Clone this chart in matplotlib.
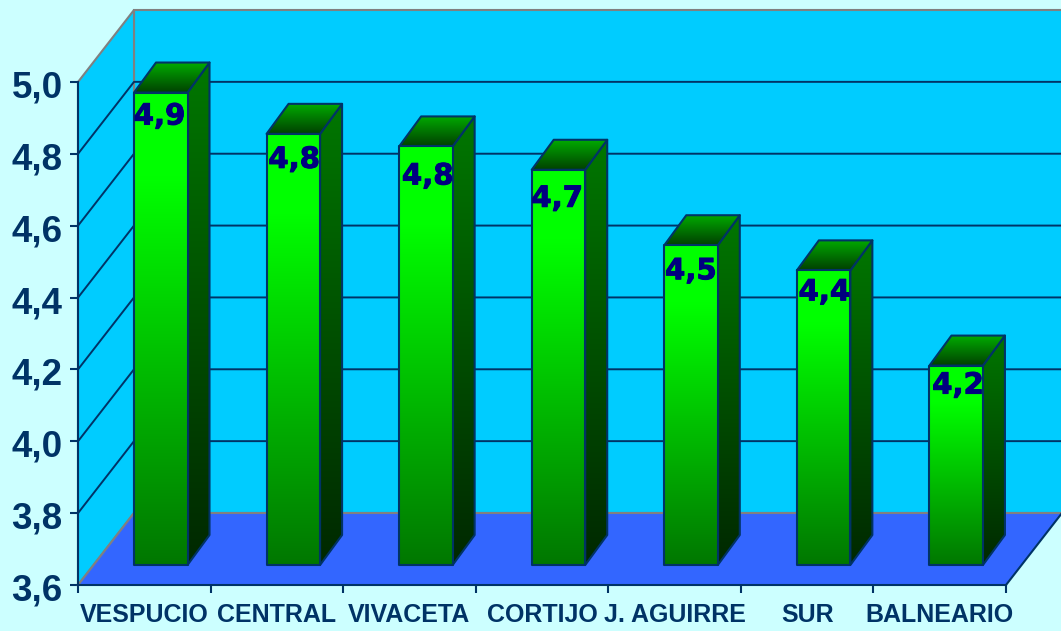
import matplotlib
matplotlib.use('Agg')
import matplotlib.pyplot as plt
import matplotlib.patheffects as pe
from matplotlib.colors import LinearSegmentedColormap
from matplotlib.patches import Polygon
from matplotlib.transforms import ScaledTranslation
import numpy as np

categories = ['VESPUCIO', 'CENTRAL', 'VIVACETA', 'CORTIJO', 'J. AGUIRRE', 'SUR', 'BALNEARIO']
values = [4.915, 4.80, 4.765, 4.70, 4.49, 4.42, 4.155]
value_labels = ['4,9', '4,8', '4,8', '4,7', '4,5', '4,4', '4,2']
y_ticks = [3.6, 3.8, 4.0, 4.2, 4.4, 4.6, 4.8, 5.0]
y_tick_labels = ['3,6', '3,8', '4,0', '4,2', '4,4', '4,6', '4,8', '5,0']

NAVY = '#003366'
GRAY = '#808080'

# size of one pixel in data units
PX = 7 / 928.0
PY = 1.4 / 503.0
WALL_DX = 56 * PX
WALL_DY = 72 * PY
# the bars stand 20 px up the floor
BASE_LIFT = 20 * PY

front_cmap = LinearSegmentedColormap.from_list('front', [(0, '#007700'), (0.82, '#00ff00'), (1, '#00ff00')])
side_cmap = LinearSegmentedColormap.from_list('side', ['#002800', '#007700'])
top_cmap = LinearSegmentedColormap.from_list('top', ['#004000', '#00aa00'])
gradient = np.linspace(0, 1, 256).reshape(-1, 1)


def shade(ax, pts, cmap, z):
    '''Fill a polygon with a vertical gradient and outline it.'''
    pts = np.array(pts)
    extent = [pts[:, 0].min(), pts[:, 0].max(), pts[:, 1].min(), pts[:, 1].max()]
    im = ax.imshow(gradient, cmap=cmap, origin='lower', aspect='auto', extent=extent, zorder=z)
    outline = Polygon(pts, closed=True, facecolor='none', edgecolor=NAVY, linewidth=1.5,
                      joinstyle='round', clip_on=False, zorder=z + 0.1)
    ax.add_patch(outline)
    im.set_clip_path(outline)
    im.set_clip_box(ax.figure.bbox)


def drawBar(ax, i, value, z):
    left = i + 56 * PX
    right = left + 53.5 * PX
    base = 3.6 + BASE_LIFT
    top = value + BASE_LIFT
    dx = 22 * PX
    dy = 30 * PY
    shade(ax, [(right, base), (right + dx, base + dy), (right + dx, top + dy), (right, top)], side_cmap, z)
    shade(ax, [(left, top), (right, top), (right + dx, top + dy), (left + dx, top + dy)], top_cmap, z + 1)
    shade(ax, [(left, base), (right, base), (right, top), (left, top)], front_cmap, z + 2)


fig = plt.figure(figsize=(10.61, 6.31), dpi=100, facecolor='#ccffff')
ax = fig.add_axes([78 / 1061.0, 46 / 631.0, 928 / 1061.0, 503 / 631.0])
ax.patch.set_visible(False)

# walls and floor
ax.add_patch(Polygon([(WALL_DX, 3.6 + WALL_DY), (7 + WALL_DX, 3.6 + WALL_DY), (7 + WALL_DX, 5.0 + WALL_DY), (WALL_DX, 5.0 + WALL_DY)],
                     facecolor='#00ccff', edgecolor=GRAY, linewidth=1.5, clip_on=False, zorder=1))
ax.add_patch(Polygon([(0, 3.6), (WALL_DX, 3.6 + WALL_DY), (WALL_DX, 5.0 + WALL_DY), (0, 5.0)],
                     facecolor='#00ccff', edgecolor=GRAY, linewidth=1.5, clip_on=False, zorder=1))

# grid on the back and side walls
for v in y_ticks[1:-1]:
    ax.plot([0, WALL_DX, 7 + WALL_DX], [v, v + WALL_DY, v + WALL_DY], color=NAVY, linewidth=1.4,
            clip_on=False, zorder=1.5)

ax.add_patch(Polygon([(0, 3.6), (7, 3.6), (7 + WALL_DX, 3.6 + WALL_DY), (WALL_DX, 3.6 + WALL_DY)],
                     facecolor='#3366ff', edgecolor='none', clip_on=False, zorder=2))
ax.plot([0, WALL_DX, 7 + WALL_DX], [3.6, 3.6 + WALL_DY, 3.6 + WALL_DY], color=GRAY, linewidth=1.5,
        clip_on=False, zorder=2.1)
ax.plot([7, 7 + WALL_DX], [3.6, 3.6 + WALL_DY], color=NAVY, linewidth=1.5, clip_on=False, zorder=2.1)

for i, v in enumerate(values):
    drawBar(ax, i, v, 3 + i * 4)

# small per-label nudges in pixels, the labels do not sit at a fixed spot
label_dx = [-2, 0, 1, -2, -1, 0, 1]
label_dy = [24, 26, 30, 29, 26, 22, 20]
for i, v in enumerate(values):
    t = ax.text(i + 83.5 * PX + label_dx[i] * PX, v + BASE_LIFT - label_dy[i] * PY, value_labels[i], color='#000080',
                fontsize=21, fontweight='bold', family='DejaVu Sans', ha='center', va='center', zorder=50)
    t.set_path_effects([pe.withStroke(linewidth=0.7, foreground='#000080')])

ax.set_xlim(0, 7)
ax.set_ylim(3.6, 5.0)

for s in ['top', 'right']:
    ax.spines[s].set_visible(False)
for s in ['left', 'bottom']:
    ax.spines[s].set_color(NAVY)
    ax.spines[s].set_linewidth(1.5)
    ax.spines[s].set_zorder(2.5)

ax.set_yticks(y_ticks)
ax.set_yticklabels(y_tick_labels, fontsize=26.5, fontweight='bold', family='Liberation Sans', color=NAVY)
ax.tick_params(axis='y', length=6, width=1.5, color=NAVY, pad=5)
# numbers sit a little under their ticks in the original
shift = ScaledTranslation(0, -2 / 100.0, fig.dpi_scale_trans)
for lab in ax.get_yticklabels():
    lab.set_transform(lab.get_transform() + shift)

ax.set_xticks(range(8))
ax.set_xticklabels([])
ax.tick_params(axis='x', which='major', length=6, width=1.5, color=NAVY)
ax.set_xticks(np.arange(7) + 0.5, minor=True)
ax.set_xticklabels(categories, minor=True, fontsize=18, fontweight='bold', family='Liberation Sans', color=NAVY)
ax.tick_params(axis='x', which='minor', length=0, pad=13)

fig.savefig('out.png', dpi=100, facecolor=fig.get_facecolor())
